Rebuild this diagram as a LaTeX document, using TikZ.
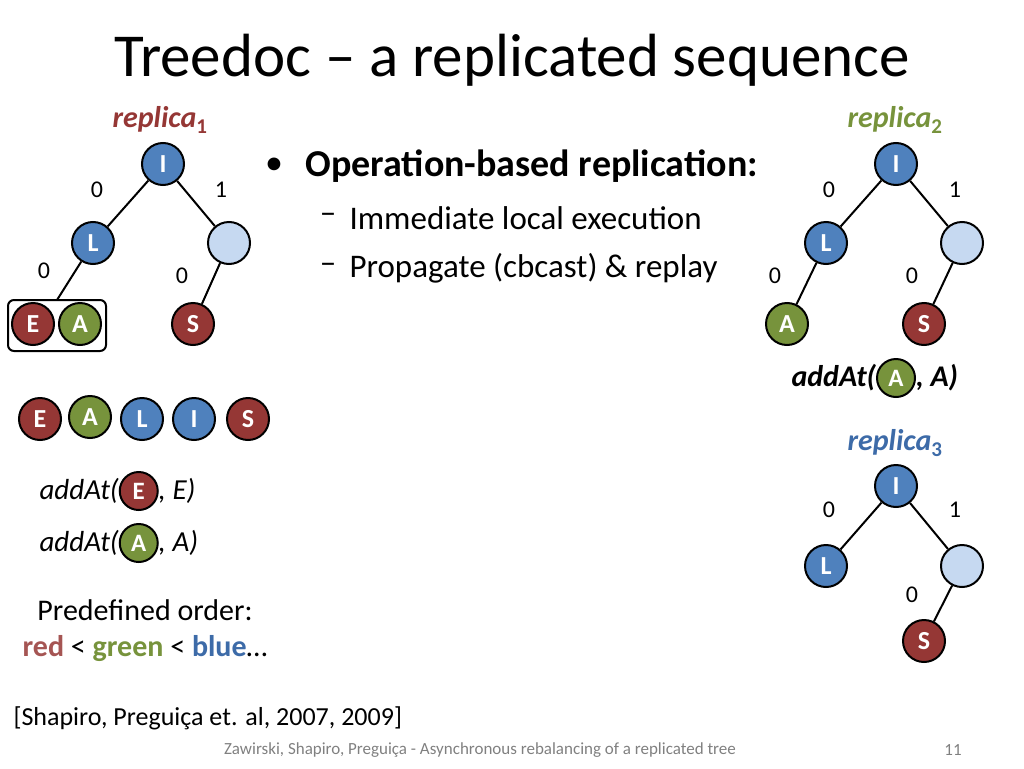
\documentclass[tikz,border=0pt]{standalone}
\usepackage{fontspec}
\setmainfont{Carlito}
\begin{document}
\begin{tikzpicture}[x=1pt,y=-1pt,
  nd/.style={circle,draw=black,line width=2pt,minimum size=42pt,inner sep=0pt,text=white,font=\fontsize{26}{28}\selectfont\bfseries},
  bl/.style={nd,fill=cblue}, rd/.style={nd,fill=cred}, gr/.style={nd,fill=cgreen}, lt/.style={nd,fill=clight},
  ed/.style={line width=2pt},
  lab/.style={font=\fontsize{24}{26}\selectfont},
  rep/.style={font=\fontsize{30}{32}\selectfont\bfseries\itshape},
  sm/.style={minimum size=38pt,font=\fontsize{25}{27}\selectfont\bfseries\upshape}]
\definecolor{cblue}{HTML}{4F81BD}
\definecolor{cred}{HTML}{953735}
\definecolor{cgreen}{HTML}{77933C}
\definecolor{clight}{HTML}{C6D9F1}
\definecolor{cgreentxt}{HTML}{77933C}
\definecolor{cbluetxt}{HTML}{3D6BA8}
\useasboundingbox (0,0) rectangle (1024,768);
\node (title) at (512,60) {\fontsize{61}{64}\selectfont Treedoc -- a replicated sequence};
% replica 1
\node[rep,text=cred] (r1) at (160,120) {replica$_{\mathbf 1}$};
\node[bl] (a1) at (163,164) {I};
\node[bl] (b1) at (93,243) {L};
\node[lt] (c1) at (229,243) {};
\node[rd] (e1) at (33,324) {E};
\node[gr] (f1) at (80,324) {A};
\node[rd] (s1) at (193,324) {S};
\draw[line width=2pt,rounded corners=6pt] (8,300) rectangle (106,351);
\coordinate (bx) at (57,300);
\draw[ed] (a1) -- (b1); \draw[ed] (a1) -- (c1); \draw[ed] (b1) -- (bx); \draw[ed] (c1) -- (s1);
\node[lab] (l11) at (97,190) {0}; \node[lab] (l12) at (221,190) {1};
\node[lab] (l13) at (44,271) {0}; \node[lab] (l14) at (182,276) {0};
% replica 2
\node[rep,text=cgreentxt] (r2) at (895,120) {replica$_{\mathbf 2}$};
\node[bl] (a2) at (896,164) {I};
\node[bl] (b2) at (826,243) {L};
\node[lt] (c2) at (962,243) {};
\node[gr] (f2) at (787,324) {A};
\node[rd] (s2) at (924,324) {S};
\draw[ed] (a2) -- (b2); \draw[ed] (a2) -- (c2); \draw[ed] (b2) -- (f2); \draw[ed] (c2) -- (s2);
\node[lab] (l21) at (829,190) {0}; \node[lab] (l22) at (955,190) {1};
\node[lab] (l23) at (775,276) {0}; \node[lab] (l24) at (912,276) {0};
\node[font=\fontsize{30}{32}\selectfont\bfseries\itshape,anchor=west] (ad2) at (788,378) {addAt(\tikz[baseline=-8pt]\node[gr,sm]{A};, A)};
% replica 3
\node[rep,text=cbluetxt] (r3) at (895,443) {replica$_{\mathbf 3}$};
\node[bl] (a3) at (896,486) {I};
\node[bl] (b3) at (826,566) {L};
\node[lt] (c3) at (962,566) {};
\node[rd] (s3) at (924,641) {S};
\draw[ed] (a3) -- (b3); \draw[ed] (a3) -- (c3); \draw[ed] (c3) -- (s3);
\node[lab] (l31) at (829,510) {0}; \node[lab] (l32) at (955,510) {1};
\node[lab] (l33) at (912,595) {0};
% row
\node[rd] (q1) at (40,419) {E};
\node[gr] (q2) at (90,417) {A};
\node[bl] (q3) at (142,419) {L};
\node[bl] (q4) at (194,419) {I};
\node[rd] (q5) at (248,419) {S};
% addAt left
\node[font=\fontsize{29}{31}\selectfont\itshape,anchor=west] (ae) at (36,491) {addAt(\tikz[baseline=-8pt]\node[rd,sm]{E};, E)};
\node[font=\fontsize{29}{31}\selectfont\itshape,anchor=west] (aa) at (36,543) {addAt(\tikz[baseline=-8pt]\node[gr,sm]{A};, A)};
\node[font=\fontsize{30}{32}\selectfont] (po) at (145,610) {Predefined order:};
\node[font=\fontsize{30}{32}\selectfont] (ord) at (145,649) {\textbf{\textcolor{cred!85!white}{red}} < \textbf{\textcolor{cgreen}{green}} < \textbf{\textcolor{cbluetxt}{blue}}\dots};
% bullets
\node[font=\fontsize{36}{38}\selectfont] (bd) at (274,166) {\textbullet};
\node[anchor=west,font=\fontsize{38}{40}\selectfont\bfseries] (b0) at (302,166) {Operation-based replication:};
\node[font=\fontsize{33}{35}\selectfont] (d1) at (328,218) {--};
\node[anchor=west,font=\fontsize{33}{35}\selectfont] (bb1) at (346,218) {Immediate local execution};
\node[font=\fontsize{33}{35}\selectfont] (d2) at (328,268) {--};
\node[anchor=west,font=\fontsize{33}{35}\selectfont] (bb2) at (346,268) {Propagate (cbcast) \& replay};
\node[anchor=west,font=\fontsize{26}{28}\selectfont] (cit) at (10,718) {[Shapiro, Preguiça et. al, 2007, 2009]};
\node[font=\fontsize{17}{19}\selectfont,text=gray] (ft) at (480,750) {Zawirski, Shapiro, Preguiça - Asynchronous rebalancing of a replicated tree};
\node[font=\fontsize{17}{19}\selectfont,text=gray] (pg) at (953,750) {11};
\end{tikzpicture}
\end{document}
